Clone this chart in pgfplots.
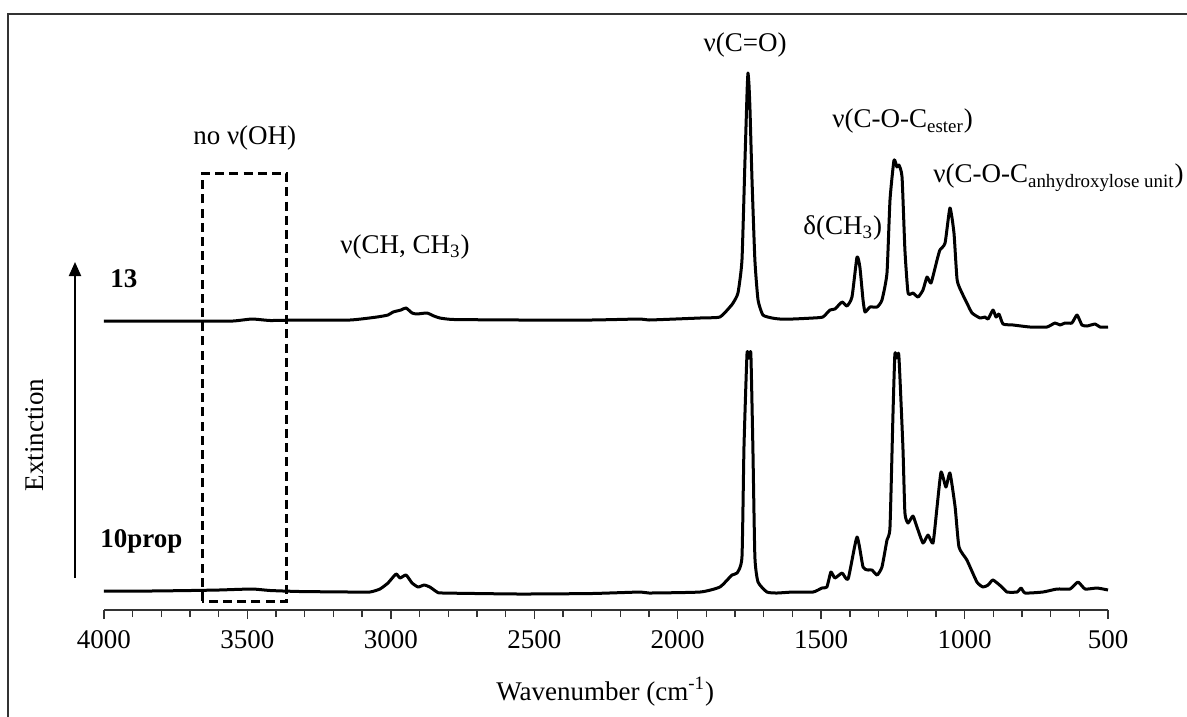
\documentclass[border=0pt]{standalone}
\usepackage{fontspec}
\setmainfont{Liberation Serif}
\usepackage{pgfplots}
\pgfplotsset{compat=1.18}
\usetikzlibrary{arrows.meta}

\pgfplotstableread{
w y
4000 289
3840 289
3665 289
3550 289
3484 291
3420 289.5
3317 290
3142 290
3048 293
3010 295
2992 298
2965 300
2947 302
2926 297
2909 296
2874 297
2850 294
2829 292
2780 290.5
2550 290
2300 290
2130 291
2100 290
1922 292
1853 293
1818 303
1807 307
1790 317
1776 350
1765.5 450
1758 520
1755 537
1751.5 525
1748 500
1741 430
1731 350
1720 310
1703 295
1671 292
1644 291
1598 291
1528 292
1494 293
1469 300
1452 301
1427 308
1410 304
1392.5 313
1375 353
1365 343
1354 310
1347 298
1330 303
1305 303
1288 310
1270.5 337
1260 410
1246 450
1236 443
1229 445
1218 433
1208 360
1197 317
1180 317
1162 313
1145 320
1131 333
1117 327
1096 350
1086 360
1068 367
1051 402
1037 377
1026 330
1009 317
992 307
974 297
946 292
929 293
918 291
901 300
890.5 293
880 296
866 286
831 285
772 283
713 283
685 287
667 285
650 287
626 287
608 295
591 285
573 284
545 286
528 283
500 283
}\specthirteen

\pgfplotstableread{
w y
4000 19
3840 19
3700 19.5
3600 20
3484 21
3420 19.5
3317 18.5
3142 18
3073 18
3038 21
3010 27
2982 36
2968 32
2947 35
2926 27
2905 23
2884 25
2864 23
2839 18
2818 17
2550 16
2300 16.5
2130 18
2100 17
1922 18
1853 23
1811 35
1793 37
1776 53
1769 163
1758.5 256
1751.5 252
1745 256
1738 163
1731 53
1720 28
1689 18
1654 17
1598 18
1528 18
1497 22
1480 23
1466 38
1452 32
1427 37
1406 31
1375 73
1354 43
1337 40
1323 40
1305 35
1288 43
1270.5 70
1260 83
1249.5 197
1243 256
1236 252
1229 254
1215 163
1208 97
1197 87
1180 94
1166 83
1145 67
1127.5 75
1110 67
1096 103
1082 138
1065 123
1051 137
1033 103
1019.5 63
992 50
957 28
936 23
918 25
901 30
870 23
852 18
817 18
803 22
789 17
727 18
678 21
632.5 21
604.6 28
580 21
538 22
500 20
}\spectenprop

\begin{document}
\begin{tikzpicture}
\begin{axis}[
    width=502pt, height=298pt, scale only axis,
    xmin=500, xmax=4000, ymin=0, ymax=596,
    x dir=reverse,
    axis x line=bottom, axis y line=none,
    axis line style={-, line width=0.75pt, black!80},
    xtick={500,1000,...,4000},
    minor xtick={600,700,...,3900},
    tick align=outside,
    major tick length=4.5pt, minor tick length=3.5pt,
    every tick/.style={black!80, line width=0.7pt},
    /pgf/number format/1000 sep={},
    /pgf/number format/assume math mode=true,
    ticklabel style={font=\fontsize{13.5}{16}\selectfont},
    xticklabel style={yshift=-2pt},
    clip=false,
    enlargelimits=false,
]
\addplot[black, line width=1.5pt, line join=round, smooth, tension=0.3] table[x=w, y=y] {\specthirteen};
\addplot[black, line width=1.5pt, line join=round, smooth, tension=0.3] table[x=w, y=y] {\spectenprop};

% dashed box around the OH region
\draw[black, line width=1.5pt, dash pattern=on 4.5pt off 2.6pt]
    (axis cs:3658,9) rectangle (axis cs:3362,436);

% extinction arrow
\draw[line width=1pt, -{Triangle[length=7pt, width=6pt]}] (axis cs:4101,32) -- (axis cs:4101,348);

\begin{scope}[every node/.style={font=\fontsize{13.5}{16}\selectfont, inner sep=0pt}]
\node[rotate=90] at (axis cs:4240,175) {Extinction};
\node[anchor=base] at (axis cs:2253,-90) {Wavenumber (cm\textsuperscript{-1})};
\node[anchor=base west] at (axis cs:3979,323) {\textbf{13}};
\node[anchor=base west] at (axis cs:4014,63) {\textbf{10prop}};
\node[anchor=base west] at (axis cs:3690,465) {no ν(OH)};
\node[anchor=base west] at (axis cs:3177,357) {ν(CH, CH\textsubscript{3})};
\node[anchor=base] at (axis cs:1765,558) {ν(C=O)};
\node[anchor=base west] at (axis cs:1462,482) {ν(C-O-C\textsubscript{ester})};
\node[anchor=base west] at (axis cs:1563,376) {δ(CH\textsubscript{3})};
\node[anchor=base west] at (axis cs:1110,427) {ν(C-O-C\textsubscript{anhydroxylose unit})};
\end{scope}

% outer frame and page extent
\draw[black!80, line width=0.8pt] (axis cs:4334.7,-140) -- (axis cs:4334.7,596) -- (axis cs:150,596);
\coordinate (bl) at (axis cs:4362.5,-106);
\coordinate (tr) at (axis cs:224.7,610);
\end{axis}
\pgfresetboundingbox
\useasboundingbox (bl) rectangle (tr);
\end{tikzpicture}
\end{document}
